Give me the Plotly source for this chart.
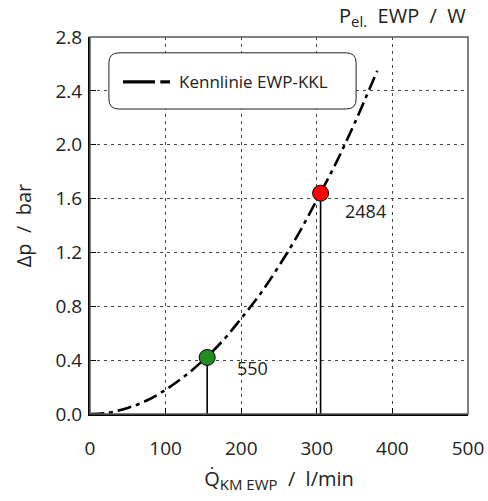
import plotly.graph_objects as go

# Data
flow = [0, 25, 50, 75, 100, 125, 150, 175, 200, 225, 250, 275, 300, 325, 350, 380]
dp = [0.0, 0.01, 0.045, 0.10, 0.18, 0.28, 0.40, 0.54, 0.71, 0.89, 1.10, 1.33, 1.59, 1.86, 2.16, 2.55]

point_flow = [155, 305]
point_dp = [0.42, 1.64]
point_power = ["550", "2484"]
point_colors = ["#228B22", "#FF0000"]

x_ticks = [0, 100, 200, 300, 400, 500]
y_ticks = [0.0, 0.4, 0.8, 1.2, 1.6, 2.0, 2.4, 2.8]

series_name = "Kennlinie EWP-KKL"

FONT = "Open Sans"
TXT = "#222"

fig = go.Figure()

# vertical drop lines
for fx, fy in zip(point_flow, point_dp):
    fig.add_trace(go.Scatter(x=[fx, fx], y=[0, fy], mode="lines",
                             line=dict(color="black", width=1.6),
                             showlegend=False, hoverinfo="skip"))

fig.add_trace(go.Scatter(x=flow, y=dp, mode="lines", name=series_name,
                         line=dict(color="black", width=2.6, dash="14px,5px,4px,5px"),
                         line_shape="spline", showlegend=False))

fig.add_trace(go.Scatter(x=point_flow, y=point_dp, mode="markers",
                         marker=dict(size=16, color=point_colors,
                                     line=dict(color="black", width=1)),
                         showlegend=False))

label_shift = [(28, -11), (22, -18)]
for fx, fy, t, (sx, sy) in zip(point_flow, point_dp, point_power, label_shift):
    fig.add_annotation(x=fx, y=fy, text=t, showarrow=False, xanchor="left",
                       yanchor="middle", xshift=sx, yshift=sy,
                       font=dict(family=FONT, size=18, color=TXT))

axis_common = dict(showgrid=True, gridcolor="#444", griddash="3px,4px", gridwidth=1,
                   ticks="inside", ticklen=6, tickcolor="black",
                   showline=True, linecolor="black", linewidth=2,
                   zeroline=False, automargin=False,
                   tickfont=dict(family=FONT, size=19, color=TXT))

SUB = "<sub><span style='font-size:15px'>{}</span></sub>"

fig.update_xaxes(range=[0, 500], tickvals=x_ticks, ticktext=[str(v) for v in x_ticks],
                 ticklabelstandoff=16,
                 title=dict(text="Q̇" + SUB.format("KM EWP") + "  /  l/min",
                            font=dict(family=FONT, size=20, color=TXT), standoff=12),
                 **axis_common)
fig.update_yaxes(range=[0, 2.8], tickvals=y_ticks, ticktext=[f"{v:.1f}" for v in y_ticks],
                 ticklabelstandoff=2,
                 title=dict(text="Δp  /  bar", font=dict(family=FONT, size=20, color=TXT),
                            standoff=18),
                 **axis_common)

# frame top/right
fig.add_shape(type="rect", xref="paper", yref="paper", x0=0, y0=0, x1=1, y1=1,
              line=dict(color="#555", width=1.5), layer="above")

# rounded legend box (paper coords)
PW, PH = 378, 377
x0, x1, y0, y1 = 0.050, 0.704, 0.809, 0.958
rx, ry = 10 / PW, 10 / PH
path = (f"M {x0+rx},{y0} L {x1-rx},{y0} Q {x1},{y0} {x1},{y0+ry} "
        f"L {x1},{y1-ry} Q {x1},{y1} {x1-rx},{y1} L {x0+rx},{y1} "
        f"Q {x0},{y1} {x0},{y1-ry} L {x0},{y0+ry} Q {x0},{y0} {x0+rx},{y0} Z")
fig.add_shape(type="path", xref="paper", yref="paper", path=path,
              line=dict(color="#222", width=1), fillcolor="white", layer="above")

# legend sample line: long dash + short dash
ly = 0.881
fig.add_shape(type="line", xref="paper", yref="paper", x0=0.0873, x1=0.172, y0=ly, y1=ly,
              line=dict(color="black", width=3.2), layer="above")
fig.add_shape(type="line", xref="paper", yref="paper", x0=0.186, x1=0.2116, y0=ly, y1=ly,
              line=dict(color="black", width=3.2), layer="above")
fig.add_annotation(xref="paper", yref="paper", x=0.229, y=ly, text=series_name,
                   showarrow=False, xanchor="left", yanchor="middle",
                   font=dict(family=FONT, size=17, color=TXT))

fig.add_annotation(xref="paper", yref="paper", x=1, y=1, yshift=4,
                   text="P" + SUB.format("el.") + "  EWP  /  W", showarrow=False,
                   xanchor="right", yanchor="bottom",
                   font=dict(family=FONT, size=20, color=TXT))

fig.update_layout(
    width=488, height=501,
    margin=dict(l=90, r=20, t=37, b=87),
    plot_bgcolor="white", paper_bgcolor="white",
    showlegend=False,
)

fig.write_html("out.html")
